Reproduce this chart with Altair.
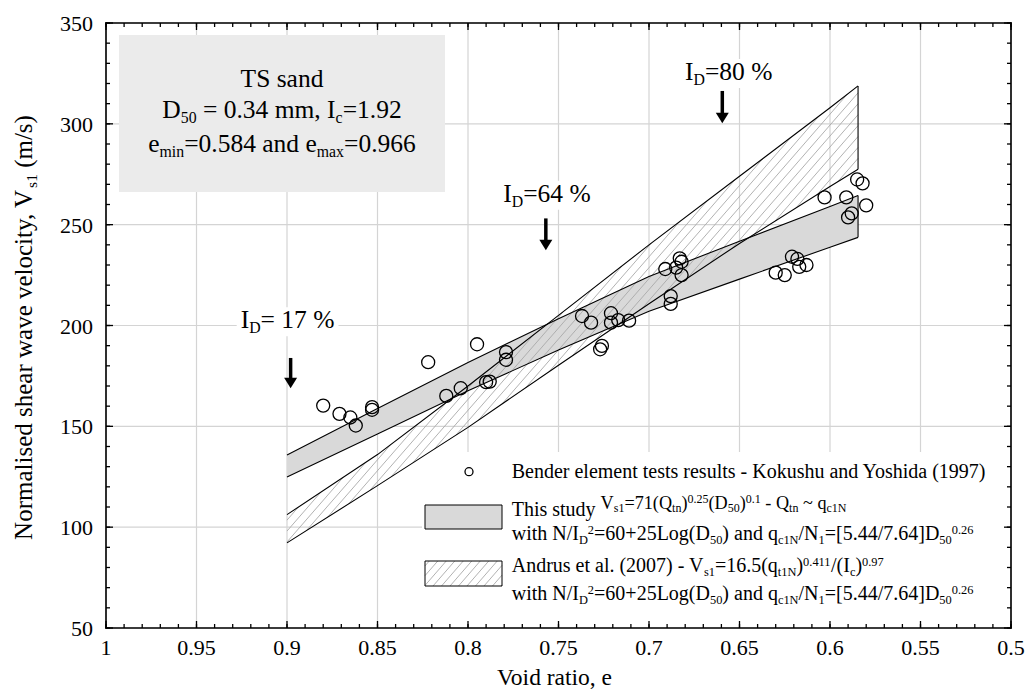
import altair as alt
import numpy as np
import pandas as pd

# ---------------- data ----------------
void_ratio = [0.880, 0.871, 0.865, 0.862, 0.853, 0.853, 0.822, 0.795, 0.812, 0.804,
              0.790, 0.788, 0.779, 0.779, 0.737, 0.732, 0.721, 0.721, 0.717, 0.711,
              0.727, 0.726, 0.691, 0.683, 0.682, 0.685, 0.682, 0.688, 0.688, 0.603,
              0.591, 0.585, 0.582, 0.580, 0.588, 0.590, 0.621, 0.618, 0.613, 0.617,
              0.630, 0.625]
vs1 = [160.3, 156.2, 154.4, 150.4, 159.5, 158.2, 181.8, 190.7, 165.1, 168.9,
       171.9, 172.2, 186.8, 183.0, 204.7, 201.4, 206.1, 201.4, 202.7, 202.4,
       188.2, 189.9, 228.0, 233.3, 231.6, 228.7, 225.0, 214.6, 210.7, 263.5,
       263.5, 272.4, 270.5, 259.6, 255.6, 253.6, 234.1, 233.0, 230.0, 229.1,
       226.2, 225.0]

band_e = [0.9, 0.85, 0.8, 0.75, 0.7, 0.65, 0.6, 0.5845]
this_upper = [135.8, 158.8, 181.6, 203.4, 224.3, 241.8, 259.0, 264.5]
this_lower = [124.9, 146.2, 167.6, 187.9, 207.1, 223.0, 238.8, 243.7]
andrus_upper = [106.2, 136.0, 170.0, 205.0, 240.0, 274.0, 308.0, 318.8]
andrus_lower = [92.2, 120.6, 149.5, 180.3, 210.8, 240.7, 268.9, 277.5]

arrow_e = [0.898, 0.757, 0.6595]
arrow_top = [183.9, 253.1, 316.3]
arrow_head = [171.5, 239.9, 302.9]
id_labels = ["I_{D}= 17 %", "I_{D}=64 %", "I_{D}=80 %"]

x_major = [1.0, 0.95, 0.9, 0.85, 0.8, 0.75, 0.7, 0.65, 0.6, 0.55, 0.5]
x_minor = [round(0.5 + 0.01 * i, 2) for i in range(51)]
y_major = [50, 100, 150, 200, 250, 300, 350]
y_minor = list(range(50, 351, 10))

box_lines = ["TS sand", "D_{50} = 0.34 mm, I_{c}=1.92", "e_{min}=0.584 and e_{max}=0.966"]
legend_lines = [
    "Bender element tests results  - Kokushu and Yoshida (1997)",
    "This study ",
    "V_{s1}=71(Q_{tn})^{0.25}(D_{50})^{0.1} - Q_{tn} ~ q_{c1N}",
    "with N/I_{D}^{2}=60+25Log(D_{50}) and q_{c1N}/N_{1}=[5.44/7.64]D_{50}^{0.26}",
    "Andrus et al. (2007) - V_{s1}=16.5(q_{t1N})^{0.411}/(I_{c})^{0.97}",
    "with N/I_{D}^{2}=60+25Log(D_{50}) and q_{c1N}/N_{1}=[5.44/7.64]D_{50}^{0.26}",
]
y_title = "Normalised shear wave velocity, V_{s1} (m/s)"
x_title = "Void ratio, e"

# ---------------- layout ----------------
W, H = 905, 605
FONT = "Liberation Serif"
E0, E1, V0, V1 = 0.5, 1.0, 50, 350


def to_px(e):
    return (E1 - np.asarray(e, float)) / (E1 - E0) * W


def to_py(v):
    return (V1 - np.asarray(v, float)) / (V1 - V0) * H


def from_px(px):
    return E1 - np.asarray(px) / W * (E1 - E0)


def from_py(py):
    return V1 - np.asarray(py) / H * (V1 - V0)


# Times / Liberation Serif advance widths (per 1000 em)
TW = {' ': 250, '!': 333, '%': 833, '(': 333, ')': 333, '+': 564, ',': 250, '-': 333,
      '.': 250, '/': 278, ':': 278, '=': 564, '[': 333, ']': 333, '~': 541,
      'A': 722, 'B': 667, 'C': 667, 'D': 722, 'E': 611, 'I': 333, 'K': 722, 'L': 611,
      'N': 722, 'Q': 722, 'S': 556, 'T': 611, 'V': 722, 'Y': 722,
      'a': 444, 'b': 500, 'c': 444, 'd': 500, 'e': 444, 'f': 333, 'g': 500, 'h': 500,
      'i': 278, 'j': 278, 'k': 500, 'l': 278, 'm': 778, 'n': 500, 'o': 500, 'p': 500,
      'q': 500, 'r': 333, 's': 389, 't': 278, 'u': 500, 'v': 500, 'w': 722, 'x': 500,
      'y': 500, 'z': 444}


def tw(s):
    return sum(TW.get(ch, 500) for ch in s) / 1000.0


def parse(markup):
    segs, buf, i = [], "", 0
    while i < len(markup):
        ch = markup[i]
        if ch in "_^" and i + 1 < len(markup) and markup[i + 1] == "{":
            if buf:
                segs.append((buf, "n"))
                buf = ""
            j = markup.index("}", i)
            segs.append((markup[i + 2:j], "sub" if ch == "_" else "sup"))
            i = j + 1
        else:
            buf += ch
            i += 1
    if buf:
        segs.append((buf, "n"))
    return segs


def rich(markup, x, y, F, anchor="start", angle=0, r=0.62):
    items, off = [], 0.0
    for t, k in parse(markup):
        sz = F if k == "n" else F * r
        dy = 0.0 if k == "n" else (0.2 * F if k == "sub" else -0.28 * F)
        lead = len(t) - len(t.lstrip(" "))
        items.append((t.strip(" "), sz, dy, off + tw(" " * lead) * sz))
        off += tw(t) * sz
    shift = -off / 2 if anchor == "middle" else 0.0
    rows = []
    for t, sz, dy, o in items:
        if not t:
            continue
        o += shift
        if angle == 0:
            rows.append(dict(px=x + o, py=y + dy, txt=t, sz=sz, ang=0))
        else:
            rows.append(dict(px=x + dy, py=y - o, txt=t, sz=sz, ang=270))
    return rows, off


def hatch(xs, top, bot, spacing=9.5, s=1.15):
    grid = np.linspace(xs[0], xs[-1], 3000)
    t = np.interp(grid, xs, top)
    b = np.interp(grid, xs, bot)
    cmin, cmax = (t + s * grid).min(), (b + s * grid).max()
    segs = []
    c = cmin + spacing * s * 0.5
    while c < cmax:
        f = c - s * grid
        idx = np.where((f >= t) & (f <= b))[0]
        if len(idx) > 1:
            xa, xb = grid[idx[0]], grid[idx[-1]]
            segs.append((xa, c - s * xa, xb, c - s * xb))
        c += spacing * s
    return segs


# ---------------- tables ----------------
pts = pd.DataFrame({"e": void_ratio, "v": vs1})
band = pd.DataFrame({"e": band_e, "up": this_upper, "lo": this_lower})
edges = pd.concat([
    pd.DataFrame({"e": band_e, "v": this_upper, "edge": "tu"}),
    pd.DataFrame({"e": band_e, "v": this_lower, "edge": "tl"}),
    pd.DataFrame({"e": band_e, "v": andrus_upper, "edge": "au"}),
    pd.DataFrame({"e": band_e, "v": andrus_lower, "edge": "al"}),
])
ends = pd.DataFrame({"e": [band_e[-1], band_e[-1]],
                     "lo": [this_lower[-1], andrus_lower[-1]],
                     "hi": [this_upper[-1], andrus_upper[-1]]})

hs = hatch(to_px(band_e), to_py(andrus_upper), to_py(andrus_lower))
hatch_df = pd.DataFrame({"e1": from_px([h[0] for h in hs]), "v1": from_py([h[1] for h in hs]),
                         "e2": from_px([h[2] for h in hs]), "v2": from_py([h[3] for h in hs])})

# legend swatches (pixel layout)
LX0, LX1 = 319, 396
G_Y0, G_Y1 = 482, 506
A_Y0, A_Y1 = 538, 563
lh = hatch(np.array([LX0, LX1]), np.array([A_Y0, A_Y0]), np.array([A_Y1, A_Y1]), spacing=8.5)
leg_hatch = pd.DataFrame({"x1": [h[0] for h in lh], "y1": [h[1] for h in lh],
                          "x2": [h[2] for h in lh], "y2": [h[3] for h in lh]})

arrows = pd.DataFrame({"e": arrow_e, "top": arrow_top, "head": arrow_head})

# frame and inward ticks drawn as thin filled rectangles (axis decoration)
TK = 0.65
trows = []
for vals, ln in [(x_minor, 4), (x_major, 7)]:
    for p in to_px(vals):
        trows.append(dict(x1=p - TK, x2=p + TK, y1=H - ln, y2=H))
        trows.append(dict(x1=p - TK, x2=p + TK, y1=0, y2=ln))
for vals, ln in [(y_minor, 4), (y_major, 7)]:
    for p in to_py(vals):
        trows.append(dict(x1=0, x2=ln, y1=p - TK, y2=p + TK))
        trows.append(dict(x1=W - ln, x2=W, y1=p - TK, y2=p + TK))
FW = 0.8
trows += [dict(x1=-FW, x2=W + FW, y1=-FW, y2=FW),
          dict(x1=-FW, x2=W + FW, y1=H - FW, y2=H + FW),
          dict(x1=-FW, x2=FW, y1=-FW, y2=H + FW),
          dict(x1=W - FW, x2=W + FW, y1=-FW, y2=H + FW)]
tick_df = pd.DataFrame(trows)

# text rows
rows = []
for line, yb in zip(box_lines, [64.3, 95.3, 128.7]):
    rows += rich(line, 176, yb, 25.5, anchor="middle")[0]
bg = []
for lab, (lx, ly) in zip(id_labels, [(134.7, 305.3), (397.3, 178.7), (579, 57)]):
    rr, w = rich(lab, lx, ly, 25.5)
    rows += rr
    bg.append(dict(x1=lx - 4, x2=lx + w + 4, y1=ly - 21, y2=ly + 8))
LTX = 405.7
rows += rich(legend_lines[0], LTX, 455.3, 20)[0]
rr, w = rich(legend_lines[1], LTX, 493, 20)
rows += rr
rows += rich(legend_lines[2], LTX + w, 485.5, 18.2, r=0.66)[0]
rows += rich(legend_lines[3], LTX, 517, 20)[0]
rows += rich(legend_lines[4], LTX, 548.7, 20)[0]
rows += rich(legend_lines[5], LTX, 577, 20)[0]
rows += rich(y_title, -74.5, 304.5, 25, anchor="middle", angle=270)[0]
rows += rich(x_title, 450, 662, 23.5, anchor="middle")[0]
text_df = pd.DataFrame(rows)
bg_df = pd.DataFrame(bg)

# ---------------- chart ----------------
xs = alt.Scale(domain=[E0, E1], reverse=True, nice=False, zero=False)
ys = alt.Scale(domain=[V0, V1], nice=False, zero=False)


def X(f):
    return alt.X(f, scale=xs, axis=None)


def Y(f):
    return alt.Y(f, scale=ys, axis=None)


one = pd.DataFrame({"k": [0]})

xmaj = pd.DataFrame({"t": x_major, "lab": [f"{v:g}" for v in x_major]})
ymaj = pd.DataFrame({"t": y_major, "lab": [f"{v:g}" for v in y_major]})
grid_x = alt.Chart(xmaj).mark_rule(color="#d4d4d4", strokeWidth=1.2).encode(
    x=X("t:Q"), y=alt.value(0), y2=alt.value(H))
grid_y = alt.Chart(ymaj).mark_rule(color="#d4d4d4", strokeWidth=1.2).encode(
    y=Y("t:Q"), x=alt.value(0), x2=alt.value(W))

x_labels = alt.Chart(xmaj).mark_text(font=FONT, fontSize=22, color="black", align="center",
                                     baseline="alphabetic").encode(
    x=X("t:Q"), y=alt.value(H + 27), text="lab:N")
y_labels = alt.Chart(ymaj).mark_text(font=FONT, fontSize=22, color="black", align="right",
                                     baseline="alphabetic", dy=8).encode(
    y=Y("t:Q"), x=alt.value(-13), text="lab:N")

frame_ticks = alt.Chart(tick_df).mark_rect(color="black", opacity=1).encode(
    x=alt.X("x1:Q", scale=None), x2="x2:Q", y=alt.Y("y1:Q", scale=None), y2="y2:Q")

legend_bg = alt.Chart(one).mark_rect(color="white").encode(
    x=alt.value(316), x2=alt.value(900), y=alt.value(429), y2=alt.value(602))
info_box = alt.Chart(one).mark_rect(color="#ebebeb").encode(
    x=alt.value(13), x2=alt.value(339), y=alt.value(12), y2=alt.value(169))
label_bg = alt.Chart(bg_df).mark_rect(color="white").encode(
    x=alt.X("x1:Q", scale=None), x2="x2:Q", y=alt.Y("y1:Q", scale=None), y2="y2:Q")

gray_band = alt.Chart(band).mark_area(color="#d9d9d9", opacity=1).encode(
    x=X("e:Q"), y=Y("up:Q"), y2="lo:Q")
hatch_layer = alt.Chart(hatch_df).mark_rule(color="#a9a9a9", strokeWidth=0.9).encode(
    x=X("e1:Q"), x2="e2:Q", y=Y("v1:Q"), y2="v2:Q")
edge_lines = alt.Chart(edges).mark_line(color="black", strokeWidth=1.1).encode(
    x=X("e:Q"), y=Y("v:Q"), detail="edge:N")
end_rules = alt.Chart(ends).mark_rule(color="black", strokeWidth=1.1).encode(
    x=X("e:Q"), y=Y("lo:Q"), y2="hi:Q")

shafts = alt.Chart(arrows).mark_rule(color="black", strokeWidth=3.5).encode(
    x=X("e:Q"), y=Y("top:Q"), y2="head:Q")
heads = alt.Chart(arrows).mark_point(shape="M-1,-0.8L1,-0.8L0,0.8Z", filled=True, color="black",
                                     size=169, opacity=1).encode(x=X("e:Q"), y=Y("head:Q"))

circles = alt.Chart(pts).mark_point(shape="circle", filled=False, color="black", size=170,
                                    strokeWidth=1.3, opacity=1).encode(x=X("e:Q"), y=Y("v:Q"))

leg_circle = alt.Chart(one).mark_point(shape="circle", filled=False, color="black", size=64,
                                       strokeWidth=1.3, opacity=1).encode(
    x=alt.value(363), y=alt.value(448.7))
leg_gray = alt.Chart(one).mark_rect(fill="#d9d9d9", stroke="black", strokeWidth=1).encode(
    x=alt.value(LX0), x2=alt.value(LX1), y=alt.value(G_Y0), y2=alt.value(G_Y1))
leg_hatch_lines = alt.Chart(leg_hatch).mark_rule(color="#a9a9a9", strokeWidth=0.9).encode(
    x=alt.X("x1:Q", scale=None), x2="x2:Q", y=alt.Y("y1:Q", scale=None), y2="y2:Q")
leg_hatch_box = alt.Chart(one).mark_rect(fill="transparent", stroke="black", strokeWidth=1).encode(
    x=alt.value(LX0), x2=alt.value(LX1), y=alt.value(A_Y0), y2=alt.value(A_Y1))

texts = alt.Chart(text_df).mark_text(align="left", baseline="alphabetic", font=FONT,
                                     color="black").encode(
    x=alt.X("px:Q", scale=None), y=alt.Y("py:Q", scale=None),
    text="txt:N", size=alt.Size("sz:Q", scale=None, legend=None),
    angle=alt.Angle("ang:Q", scale=None, legend=None))

chart = alt.layer(
    grid_x, grid_y, legend_bg, info_box, label_bg, gray_band,
    hatch_layer, edge_lines, end_rules, shafts, heads, circles, leg_circle, leg_gray,
    leg_hatch_lines, leg_hatch_box, frame_ticks, x_labels, y_labels, texts,
).properties(
    width=W, height=H,
    autosize=alt.AutoSizeParams(type="none"),
    padding={"left": 106, "top": 23, "right": 16, "bottom": 63},
).configure_view(stroke="transparent")

chart.save("out.html", embed_options={"renderer": "svg", "actions": False})
